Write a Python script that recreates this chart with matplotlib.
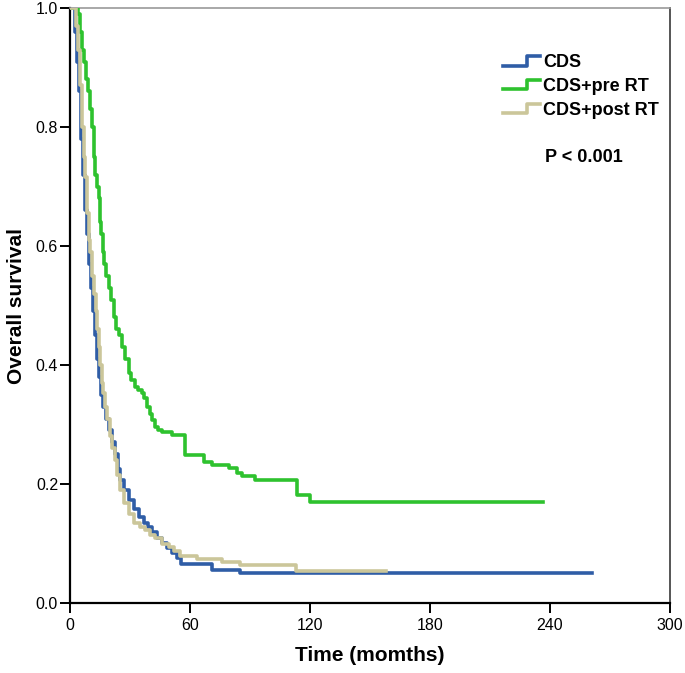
import matplotlib.pyplot as plt
from matplotlib.legend_handler import HandlerBase
from matplotlib.lines import Line2D

plt.rcParams['font.family'] = ['Liberation Sans', 'DejaVu Sans']

# Kaplan-Meier steps (months, survival)
cds_t = [0, 2.5, 3.5, 4.5, 5.5, 6.5, 7.5, 8.5, 9.5, 10.5, 11.5, 12.5, 13.5, 14.5, 15.5,
         16.5, 18, 19.5, 21, 22.5, 24, 25, 27, 29.5, 32, 34.5, 37, 39, 41, 43.5, 46,
         48.5, 51, 53.5, 55.5, 71, 85, 261]
cds_s = [1.0, 0.96, 0.91, 0.86, 0.78, 0.72, 0.66, 0.62, 0.57, 0.53, 0.49, 0.45, 0.41, 0.38, 0.35,
         0.33, 0.31, 0.29, 0.27, 0.25, 0.225, 0.207, 0.19, 0.173, 0.158, 0.145, 0.135, 0.127, 0.12, 0.11, 0.101,
         0.092, 0.084, 0.076, 0.066, 0.0555, 0.051, 0.051]

pre_t = [0, 4, 5, 6, 7, 8, 9, 10, 11, 12, 12.5, 13.5, 14.5, 15, 15.5, 16.5, 17, 18,
         19.5, 20.5, 22, 23, 24.5, 26, 27.5, 29.5, 30.5, 32.5, 34, 36, 37, 38.5, 40,
         41, 42.5, 44, 46, 51, 57.5, 67, 71, 79.5, 83.5, 86, 92.5, 113.5, 120, 236.5]
pre_s = [1.0, 0.99, 0.96, 0.93, 0.91, 0.88, 0.86, 0.83, 0.80, 0.75, 0.72, 0.70, 0.68, 0.64, 0.62, 0.59, 0.57, 0.55,
         0.53, 0.51, 0.48, 0.46, 0.45, 0.43, 0.41, 0.387, 0.375, 0.363, 0.358, 0.353, 0.345, 0.33, 0.318,
         0.308, 0.296, 0.29, 0.287, 0.282, 0.249, 0.237, 0.232, 0.227, 0.218, 0.213, 0.207, 0.182, 0.17, 0.17]

post_t = [0, 3, 4, 5, 6, 7, 7.5, 8.5, 9.5, 10, 11, 12, 13, 13.5, 14.5, 15, 16, 16.5,
          17.5, 18.5, 20, 21, 22.5, 23.5, 25, 27, 29.5, 32, 35, 37.5, 40, 42.5, 46,
          49.5, 52, 55, 63.5, 76, 85, 113, 158]
post_s = [1.0, 0.97, 0.93, 0.87, 0.80, 0.75, 0.716, 0.655, 0.61, 0.59, 0.55, 0.52, 0.49, 0.46, 0.43, 0.40, 0.37, 0.353,
          0.33, 0.31, 0.28, 0.26, 0.24, 0.215, 0.19, 0.168, 0.15, 0.134, 0.127, 0.122, 0.115, 0.11, 0.10,
          0.094, 0.088, 0.079, 0.0746, 0.069, 0.0635, 0.054, 0.054]

labels = ["CDS", "CDS+pre RT", "CDS+post RT"]
colors = ["#2F5DA6", "#2EC22E", "#CBC69A"]


class StepHandler(HandlerBase):
    # SPSS-style legend key: a small step
    def create_artists(self, legend, orig_handle, xdescent, ydescent,
                       width, height, fontsize, trans):
        x0 = -xdescent
        y0 = -ydescent
        xs = [x0, x0 + 0.65 * width, x0 + 0.65 * width, x0 + width]
        ys = [y0 + 0.1 * height, y0 + 0.1 * height, y0 + 0.85 * height, y0 + 0.85 * height]
        ln = Line2D(xs, ys, color=orig_handle.get_color(),
                    lw=orig_handle.get_linewidth(), transform=trans)
        return [ln]


fig = plt.figure(figsize=(6.85, 6.73), dpi=100)
ax = fig.add_axes([0.102, 0.104, 0.876, 0.884])

l1, = ax.step(cds_t, cds_s, where="post", color=colors[0], lw=2.6, label=labels[0], zorder=2)
l2, = ax.step(pre_t, pre_s, where="post", color=colors[1], lw=2.6, label=labels[1], zorder=3)
l3, = ax.step(post_t, post_s, where="post", color=colors[2], lw=2.6, label=labels[2], zorder=4)

ax.set_xlim(0, 300)
ax.set_ylim(0, 1.0)
ax.set_xticks([0, 60, 120, 180, 240, 300])
ax.set_yticks([0.0, 0.2, 0.4, 0.6, 0.8, 1.0])
ax.set_yticklabels(["0.0", "0.2", "0.4", "0.6", "0.8", "1.0"])
ax.tick_params(direction="out", length=7, width=1.4, labelsize=11.5)
ax.tick_params(axis="x", pad=4)
ax.tick_params(axis="y", pad=1.5)

for s in ["left", "bottom"]:
    ax.spines[s].set_color("black")
    ax.spines[s].set_linewidth(1.6)
ax.spines["top"].set_color("#999999")
ax.spines["top"].set_linewidth(1.2)
ax.spines["right"].set_color("#555555")
ax.spines["right"].set_linewidth(1.4)

ax.set_xlabel("Time (momths)", fontsize=15, fontweight="bold", labelpad=9)
ax.set_ylabel("Overall survival", fontsize=15, fontweight="bold", labelpad=7)

leg = ax.legend(handles=[l1, l2, l3], handler_map={Line2D: StepHandler()},
                loc="upper left", bbox_to_anchor=(0.722, 0.923), frameon=False,
                prop={"weight": "bold", "size": 13}, handlelength=2.05,
                handletextpad=0.17, labelspacing=0.38, borderaxespad=0, borderpad=0)

ax.text(0.792, 0.748, "P < 0.001", transform=ax.transAxes, fontsize=13,
        fontweight="bold", ha="left", va="center")

fig.savefig("out.png", dpi=100)
